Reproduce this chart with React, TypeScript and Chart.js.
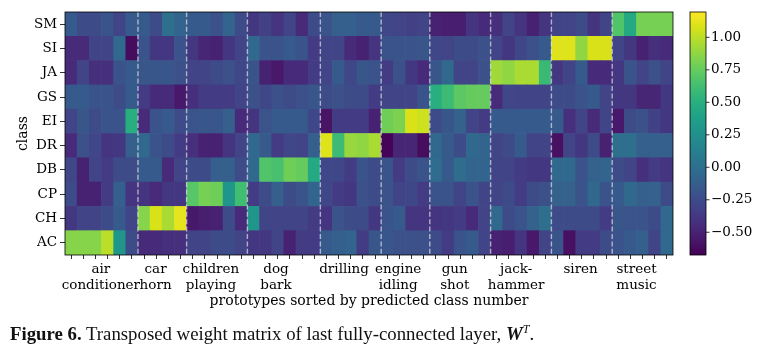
import React, { useEffect, useRef } from "react";
import { Chart, registerables } from "chart.js";
Chart.register(...registerables);

// ---------- data ----------
const ROWS = ["AC", "CH", "CP", "DB", "DR", "EI", "GS", "JA", "SI", "SM"];
const CLASS_LABELS: string[][] = [
  ["air", "conditioner"], ["car", "horn"], ["children", "playing"], ["dog", "bark"], ["drilling"],
  ["engine", "idling"], ["gun", "shot"], ["jack-", "hammer"], ["siren"], ["street", "music"],
];
const CLASS_SIZES = [6, 4, 5, 6, 5, 4, 5, 5, 5, 5];
const LABEL_POS = [2.45, 6.95, 11.5, 16.85, 22.45, 26.9, 31.55, 36.6, 41.9, 46.5];
const CB_TICKS = [-0.5, -0.25, 0, 0.25, 0.5, 0.75, 1.0];
const V_MIN = -0.675;
const V_MAX = 1.195;

const AC_VALS = [0.85, 0.85, 0.85, 1.0, 0.3, -0.25, -0.45, -0.45, -0.42, -0.42, -0.3, -0.3, -0.25, -0.25, -0.3, -0.38, -0.38, -0.3, -0.5, -0.35, -0.35, -0.15, -0.12, -0.08, -0.35, -0.18, -0.18, -0.22, -0.22, -0.22, -0.25, -0.35, -0.2, -0.15, -0.3, -0.5, -0.52, -0.4, -0.55, -0.3, -0.2, -0.6, -0.35, -0.35, -0.25, -0.2, -0.15, -0.12, -0.3, -0.05];
const CH_VALS = [-0.38, -0.3, -0.3, -0.25, -0.15, -0.3, 0.85, 1.08, 0.95, 1.12, -0.55, -0.52, -0.5, -0.25, -0.45, 0.3, -0.3, -0.3, -0.3, -0.3, -0.35, -0.4, -0.2, -0.25, -0.25, -0.38, -0.2, -0.15, -0.4, -0.4, -0.4, -0.38, -0.35, -0.45, -0.3, -0.05, -0.25, -0.2, -0.1, 0.0, -0.25, -0.25, -0.25, -0.25, -0.35, -0.18, -0.2, -0.2, -0.25, -0.05];
const CP_VALS = [-0.25, -0.5, -0.5, -0.35, -0.12, -0.4, -0.4, -0.45, -0.38, -0.38, 0.7, 0.8, 0.78, 0.3, 0.62, -0.35, -0.25, -0.12, -0.25, -0.2, -0.08, -0.28, -0.35, -0.38, -0.22, -0.25, -0.2, -0.3, -0.28, -0.35, -0.2, -0.2, -0.3, -0.2, -0.3, -0.3, -0.25, -0.35, -0.25, -0.22, -0.1, -0.1, -0.2, -0.05, -0.2, -0.15, -0.05, -0.12, -0.1, -0.25];
const DB_VALS = [-0.28, -0.5, -0.3, -0.35, -0.25, -0.25, -0.15, -0.15, -0.45, -0.3, -0.25, -0.25, -0.12, -0.12, -0.25, -0.05, 0.68, 0.65, 0.78, 0.75, 0.45, -0.28, -0.28, -0.35, -0.2, -0.25, -0.2, -0.35, -0.25, -0.2, -0.02, -0.15, -0.02, -0.08, -0.08, -0.3, -0.3, -0.35, -0.38, -0.38, -0.05, -0.05, -0.2, -0.1, -0.08, -0.25, -0.3, -0.42, -0.35, -0.4];
const DR_VALS = [-0.45, -0.22, -0.28, -0.4, -0.38, -0.12, -0.05, -0.2, -0.25, -0.35, -0.42, -0.5, -0.5, -0.4, -0.3, -0.05, -0.15, -0.35, -0.28, -0.3, -0.12, 1.1, 0.6, 0.9, 0.88, 0.95, -0.66, -0.48, -0.48, -0.62, -0.05, -0.15, -0.25, -0.05, -0.08, -0.3, -0.25, -0.15, -0.3, -0.3, -0.6, -0.3, -0.38, -0.25, -0.5, 0.0, 0.0, -0.12, -0.12, -0.12];
const EI_VALS = [-0.3, -0.18, -0.25, -0.2, -0.2, 0.5, -0.45, -0.2, -0.15, -0.25, -0.2, -0.18, -0.18, -0.12, -0.45, -0.4, -0.2, -0.15, -0.15, -0.15, -0.28, -0.58, -0.35, -0.35, -0.35, -0.5, 0.78, 0.82, 1.08, 1.05, -0.25, -0.18, -0.1, -0.3, -0.35, -0.15, -0.15, -0.15, -0.15, -0.15, -0.15, -0.42, -0.3, -0.45, -0.3, -0.55, -0.25, -0.22, -0.32, -0.38];
const GS_VALS = [-0.15, -0.15, -0.2, -0.2, -0.25, -0.15, -0.35, -0.45, -0.45, -0.55, -0.42, -0.35, -0.35, -0.35, -0.3, -0.22, -0.28, -0.22, -0.25, -0.22, -0.18, -0.25, -0.22, -0.25, -0.25, -0.35, -0.3, -0.3, -0.3, -0.2, 0.5, 0.6, 0.72, 0.75, 0.75, -0.45, -0.28, -0.3, -0.3, -0.3, -0.25, -0.25, -0.2, -0.15, -0.3, -0.38, -0.38, -0.48, -0.48, -0.38];
const JA_VALS = [-0.45, -0.3, -0.42, -0.42, -0.2, -0.15, -0.18, -0.18, -0.18, -0.22, -0.3, -0.3, -0.25, -0.22, -0.28, -0.2, -0.5, -0.55, -0.45, -0.45, -0.35, -0.3, -0.15, -0.28, -0.18, -0.2, -0.35, -0.22, -0.38, -0.45, -0.18, -0.05, -0.3, -0.3, -0.22, 0.92, 0.88, 0.95, 0.95, 0.58, -0.38, -0.3, -0.15, -0.45, -0.45, -0.38, -0.2, -0.3, -0.22, -0.3];
const SI_VALS = [-0.45, -0.45, -0.3, -0.3, -0.05, -0.62, -0.2, -0.38, -0.38, -0.2, -0.38, -0.48, -0.5, -0.38, -0.3, -0.05, -0.2, -0.2, -0.15, -0.2, -0.35, -0.3, -0.3, -0.45, -0.5, -0.4, -0.2, -0.2, -0.2, -0.18, -0.28, -0.3, -0.25, -0.25, -0.22, -0.3, -0.38, -0.28, -0.22, -0.15, 1.1, 1.1, 0.88, 1.08, 1.08, -0.3, -0.38, -0.5, -0.42, -0.45];
const SM_VALS = [-0.15, -0.25, -0.25, -0.2, -0.3, -0.15, -0.15, -0.25, 0.0, -0.08, -0.15, -0.15, -0.22, -0.08, -0.25, -0.38, -0.32, -0.4, -0.3, -0.45, -0.25, -0.2, -0.12, -0.12, -0.15, -0.15, -0.28, -0.3, -0.32, -0.3, -0.5, -0.52, -0.52, -0.4, -0.45, -0.42, -0.3, -0.4, -0.5, -0.4, -0.3, -0.3, -0.25, -0.4, -0.3, 0.68, 0.45, 0.8, 0.8, 0.8];

const ROW_VALUES = [AC_VALS, CH_VALS, CP_VALS, DB_VALS, DR_VALS, EI_VALS, GS_VALS, JA_VALS, SI_VALS, SM_VALS];

// ---------- colormap (viridis) ----------
const VIRIDIS = [
  "#440154", "#48186a", "#472d7b", "#424086", "#3b528b", "#33638d", "#2c728e", "#26828e",
  "#21918c", "#1fa088", "#28ae80", "#3fbc73", "#5ec962", "#84d44b", "#addc30", "#d8e219", "#fde725",
];
const hex = (h: string) => [1, 3, 5].map((i) => parseInt(h.slice(i, i + 2), 16));
function viridis(v: number): string {
  let t = (v - V_MIN) / (V_MAX - V_MIN);
  t = Math.max(0, Math.min(1, t));
  const f = t * (VIRIDIS.length - 1);
  const i = Math.min(VIRIDIS.length - 2, Math.floor(f));
  const a = hex(VIRIDIS[i]);
  const b = hex(VIRIDIS[i + 1]);
  const u = f - i;
  const c = a.map((x, k) => Math.round(x + (b[k] - x) * u));
  return `rgb(${c[0]},${c[1]},${c[2]})`;
}

const FONT = "DejaVu Serif";
const fmt = (v: number) => (v < 0 ? "\u2212" + Math.abs(v).toFixed(2) : v.toFixed(2));
const noPad = (s: any) => {
  s.paddingTop = 0;
  s.paddingBottom = 0;
  s.paddingLeft = 0;
  s.paddingRight = 0;
};

const decorPlugin = {
  id: "decor",
  afterDatasetsDraw(chart: any) {
    const { ctx, chartArea: a } = chart;
    const xs = chart.scales.x;
    ctx.save();
    // dashed class boundaries
    ctx.strokeStyle = "rgba(220,220,232,0.72)";
    ctx.lineWidth = 1.4;
    ctx.setLineDash([5, 2.4]);
    let acc = 0;
    CLASS_SIZES.slice(0, -1).forEach((n) => {
      acc += n;
      const x = xs.getPixelForValue(acc - 0.5);
      ctx.beginPath();
      ctx.moveTo(x, a.top);
      ctx.lineTo(x, a.bottom);
      ctx.stroke();
    });
    ctx.setLineDash([]);
    // frame
    ctx.strokeStyle = "#000";
    ctx.lineWidth = 0.8;
    ctx.strokeRect(a.left, a.top, a.right - a.left, a.bottom - a.top);
    // colorbar
    const cb = chart.scales.cb;
    const x0 = cb.left + 17;
    const w = 16;
    const yTop = cb.getPixelForValue(V_MAX);
    const yBot = cb.getPixelForValue(V_MIN);
    const g = ctx.createLinearGradient(0, yBot, 0, yTop);
    VIRIDIS.forEach((c, i) => g.addColorStop(i / (VIRIDIS.length - 1), c));
    ctx.fillStyle = g;
    ctx.fillRect(x0, yTop, w, yBot - yTop);
    ctx.strokeRect(x0, yTop, w, yBot - yTop);
    ctx.beginPath();
    CB_TICKS.forEach((v) => {
      const y = cb.getPixelForValue(v);
      ctx.moveTo(x0 + w, y);
      ctx.lineTo(x0 + w + 3.5, y);
    });
    ctx.stroke();
    ctx.restore();
  },
};

export default function App() {
  const ref = useRef<HTMLCanvasElement>(null);
  useEffect(() => {
    document.body.style.margin = "0";
    const datasets = ROWS.map((name, r) => ({
      label: name,
      data: ROW_VALUES[r].map((_, i) => ({ x: i, y: 1 })),
      backgroundColor: ROW_VALUES[r].map(viridis),
      borderWidth: 0,
      barPercentage: 1,
      categoryPercentage: 1,
      stack: "rows",
    }));
    const tickFont = { family: FONT, size: 13.5, lineHeight: 1.15 };
    const titleFont = { family: FONT, size: 14, lineHeight: 1.2 };
    const nCols = AC_VALS.length;
    const chart = new Chart(ref.current as HTMLCanvasElement, {
      type: "bar",
      data: { datasets } as any,
      options: {
        responsive: false,
        animation: false,
        devicePixelRatio: 1,
        layout: { padding: { left: 0, right: 7, top: 12, bottom: 0 } },
        plugins: { legend: { display: false }, tooltip: { enabled: false } },
        scales: {
          x: {
            type: "linear",
            min: -0.5,
            max: nCols - 0.5,
            offset: false,
            stacked: true,
            bounds: "data",
            border: { display: false },
            grid: {
              offset: false,
              drawOnChartArea: false,
              tickLength: 4,
              tickWidth: 0.8,
              tickColor: (c: any) => (c.index >= nCols ? "rgba(0,0,0,0)" : "#000"),
            },
            afterBuildTicks: (s: any) => {
              s.ticks = [
                ...AC_VALS.map((_, i) => ({ value: i })),
                ...LABEL_POS.map((v) => ({ value: v })),
              ];
            },
            ticks: {
              autoSkip: false,
              maxRotation: 0,
              minRotation: 0,
              padding: 3,
              color: "#000",
              font: tickFont,
              callback: (_v: any, i: number) => (i >= nCols ? CLASS_LABELS[i - nCols] : ""),
            },
            title: {
              display: true,
              text: "prototypes sorted by predicted class number",
              color: "#000",
              font: titleFont,
              padding: { top: 0, bottom: 46 },
            },
            afterFit: (s: any) => {
              s.height = 101;
              noPad(s);
            },
          } as any,
          y: {
            type: "linear",
            position: "left",
            stacked: true,
            min: 0,
            max: ROWS.length,
            border: { display: false },
            grid: { drawOnChartArea: false, tickLength: 5, tickWidth: 0.8, tickColor: "#000" },
            afterBuildTicks: (s: any) => {
              s.ticks = ROWS.map((_, r) => ({ value: r + 0.5 }));
            },
            ticks: {
              padding: 3,
              color: "#000",
              font: tickFont,
              callback: (_v: any, i: number) => ROWS[i],
            },
            title: {
              display: true,
              text: "class",
              color: "#000",
              font: titleFont,
              padding: { top: 14.6, bottom: 0 },
            },
            afterFit: (s: any) => {
              s.width = 65;
              noPad(s);
            },
          } as any,
          cb: {
            type: "linear",
            position: "right",
            min: V_MIN,
            max: V_MAX,
            border: { display: false },
            grid: { display: false, drawTicks: false },
            afterBuildTicks: (s: any) => {
              s.ticks = CB_TICKS.map((v) => ({ value: v }));
            },
            ticks: {
              padding: 38,
              color: "#000",
              font: tickFont,
              callback: (v: any) => fmt(Number(v)),
            },
            afterFit: (s: any) => {
              s.width = 80;
              noPad(s);
            },
          } as any,
        },
      },
      plugins: [decorPlugin],
    });
    return () => chart.destroy();
  }, []);

  return (
    <div style={{ position: "relative", width: 760, height: 356, background: "#fff" }}>
      <canvas ref={ref} width={760} height={356} style={{ display: "block" }} />
      <div
        style={{
          position: "absolute",
          left: 10,
          top: 318,
          fontFamily: "'Liberation Serif', serif",
          fontSize: 18.8,
          lineHeight: "22px",
          color: "#111",
          whiteSpace: "nowrap",
        }}
      >
        <b>Figure 6.</b> Transposed weight matrix of last fully-connected layer,{" "}
        <b>
          <i>W</i>
        </b>
        <sup style={{ fontSize: 12, fontStyle: "italic", verticalAlign: "7px" }}>T</sup>.
      </div>
    </div>
  );
}
